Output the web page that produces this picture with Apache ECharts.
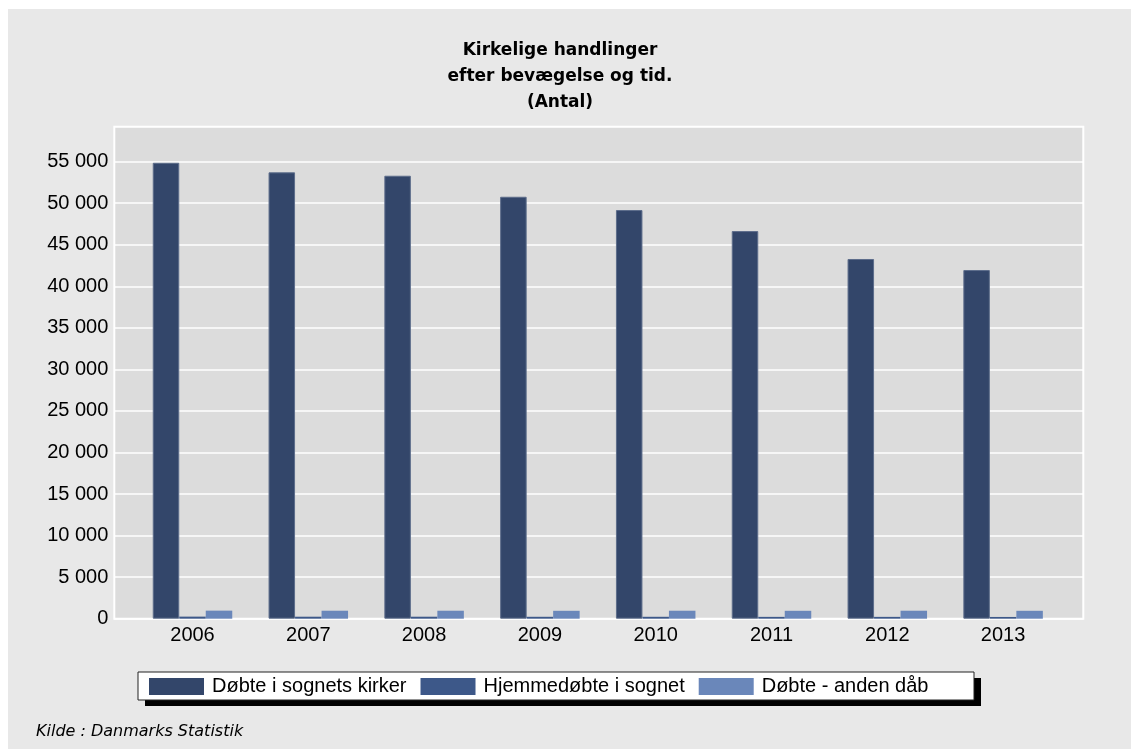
<!DOCTYPE html>
<html>
<head>
<meta charset="utf-8">
<script src="https://cdn.jsdelivr.net/npm/echarts@6/dist/echarts.min.js"></script>
<style>
html,body{margin:0;padding:0;background:#fff;}
#chart{width:1131px;height:749px;}
</style>
</head>
<body>
<div id="chart"></div>
<script>
var years = ['2006','2007','2008','2009','2010','2011','2012','2013'];
var seriesNames = ['Døbte i sognets kirker','Hjemmedøbte i sognet','Døbte - anden dåb'];
var kirker = [54870, 53720, 53310, 50780, 49180, 46650, 43290, 41960];
var hjemme = [250, 240, 240, 230, 230, 220, 220, 210];
var anden = [970, 960, 960, 950, 960, 950, 960, 950];
var yTicks = {min: 0, max: 55000, interval: 5000};
var titleLines = ['Kirkelige handlinger', 'efter bevægelse og tid.', '(Antal)'];
var sourceText = 'Kilde : Danmarks Statistik';

var colors = ['#33466a', '#3d5889', '#6a87ba'];
var LF = 'Liberation Sans, Arial, sans-serif';

var chart = echarts.init(document.getElementById('chart'), null, {renderer: 'canvas'});

function fmt(v) {
  return String(v).replace(/\B(?=(\d{3})+(?!\d))/g, ' ');
}

var option = {
  backgroundColor: '#ffffff',
  animation: false,
  color: colors,
  title: {
    text: titleLines.join('\n'),
    left: 555,
    top: 33,
    textAlign: 'center',
    textStyle: {
      fontFamily: 'DejaVu Sans, sans-serif',
      fontWeight: 'bold',
      fontSize: 17,
      lineHeight: 26,
      color: '#000'
    }
  },
  graphic: [
    {type: 'rect', z: -10, shape: {x: 8, y: 9, width: 1123, height: 740}, style: {fill: '#e8e8e8'}},
    {type: 'rect', z: -9, shape: {x: 114.3, y: 126.7, width: 969, height: 492}, style: {fill: '#dcdcdc', stroke: '#ffffff', lineWidth: 2}},
    {type: 'rect', z: -8, shape: {x: 145, y: 678, width: 836, height: 28}, style: {fill: '#000000'}},
    {type: 'rect', z: -7, shape: {x: 138, y: 672, width: 836, height: 28}, style: {fill: '#ffffff', stroke: '#222222', lineWidth: 1}},
    {type: 'text', left: 36, top: 724, style: {text: sourceText, font: 'italic 16px DejaVu Sans, sans-serif', fill: '#000'}}
  ],
  legend: {
    data: seriesNames,
    left: 149,
    top: 676.5,
    padding: 0,
    itemWidth: 55,
    itemHeight: 17,
    itemGap: 14,
    icon: 'rect',
    itemStyle: {borderWidth: 0},
    textStyle: {fontFamily: LF, fontSize: 20, color: '#000', padding: [0, 0, 0, 3]}
  },
  grid: [
    {left: 114.3, right: 47.7, top: 161.7, bottom: 130.3},
    {left: 134.6, right: 70, top: 161.7, bottom: 130.3}
  ],
  xAxis: [
    {gridIndex: 0, type: 'category', data: [''], show: false},
    {
      gridIndex: 1, type: 'category', data: years,
      axisLine: {show: false}, axisTick: {show: false},
      axisLabel: {margin: 7, fontFamily: LF, fontSize: 20, color: '#000'}
    }
  ],
  yAxis: [
    {
      gridIndex: 0, type: 'value', min: yTicks.min, max: yTicks.max, interval: yTicks.interval,
      axisLine: {show: false}, axisTick: {show: false},
      splitLine: {show: true, lineStyle: {color: '#ffffff', width: 1.5}},
      axisLabel: {margin: 6, fontFamily: LF, fontSize: 20, color: '#000', formatter: fmt}
    },
    {
      gridIndex: 1, type: 'value', min: yTicks.min, max: yTicks.max, interval: yTicks.interval,
      show: false
    }
  ],
  series: [
    {name: seriesNames[0], type: 'bar', xAxisIndex: 1, yAxisIndex: 1, data: kirker, barWidth: 26.5, barGap: '0%',
      itemStyle: {color: colors[0], borderColor: '#5d6d8b', borderWidth: 1}},
    {name: seriesNames[1], type: 'bar', xAxisIndex: 1, yAxisIndex: 1, data: hjemme, barWidth: 26.5, barGap: '0%',
      itemStyle: {color: colors[1]}},
    {name: seriesNames[2], type: 'bar', xAxisIndex: 1, yAxisIndex: 1, data: anden, barWidth: 26.5, barGap: '0%',
      itemStyle: {color: colors[2]}}
  ]
};
chart.setOption(option);
</script>
</body>
</html>
